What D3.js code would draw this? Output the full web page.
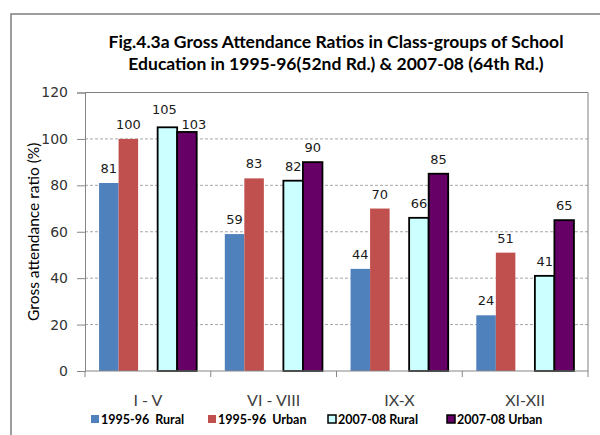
<!DOCTYPE html>
<html>
<head>
<meta charset="utf-8">
<script src="https://cdn.jsdelivr.net/npm/d3@7"></script>
<style>
  body { margin: 0; background: #fff; }
  svg { display: block; }
</style>
</head>
<body>
<svg width="600" height="435"></svg>
<script>
// values
var categories = ["I - V", "VI - VIII", "IX-X", "XI-XII"];
var rural9596 = [81, 59, 44, 24];
var urban9596 = [100, 83, 70, 51];
var rural0708 = [105, 82, 66, 41];
var urban0708 = [103, 90, 85, 65];
var seriesNames = ["1995-96  Rural", "1995-96  Urban", "2007-08 Rural", "2007-08 Urban"];
var yTicks = [0, 20, 40, 60, 80, 100, 120];

var svg = d3.select("svg"),
    width = +svg.attr("width"),
    height = +svg.attr("height"),
    margin = {top: 92.5, right: 12, bottom: 64, left: 85};

var series = [
  {key: "r95", name: seriesNames[0], values: rural9596, fill: "#4F81BD", stroke: "none"},
  {key: "u95", name: seriesNames[1], values: urban9596, fill: "#C0504D", stroke: "none"},
  {key: "r07", name: seriesNames[2], values: rural0708, fill: "#CCFFFF", stroke: "#000"},
  {key: "u07", name: seriesNames[3], values: urban0708, fill: "#660066", stroke: "#000"}
];

var x0 = d3.scaleBand().domain(categories).range([margin.left, width - margin.right]),
    // empty slot between the two survey rounds
    x1 = d3.scaleBand().domain(["r95", "u95", "gap", "r07", "u07"]).range([0, x0.bandwidth()]).paddingOuter(0.72),
    y = d3.scaleLinear().domain([0, 120]).range([height - margin.bottom, margin.top]);

// outer chart frame
svg.append("rect")
    .attr("x", 11).attr("y", 14)
    .attr("width", 620).attr("height", 450)
    .attr("fill", "none")
    .attr("stroke", "#7f7f7f")
    .attr("stroke-width", 1.5);

// title
var title = svg.append("text")
    .attr("text-anchor", "middle")
    .style("font-family", "Lato, sans-serif")
    .style("font-weight", "bold")
    .style("font-size", "17.5px")
    .attr("fill", "#000");
title.append("tspan").attr("x", 336).attr("y", 48)
    .text("Fig.4.3a Gross Attendance Ratios in Class-groups of School");
title.append("tspan").attr("x", 336).attr("y", 70)
    .text("Education in 1995-96(52nd Rd.) & 2007-08 (64th Rd.)");

// gridlines
svg.append("g")
  .selectAll("line")
  .data(yTicks.filter(function(d) { return d > 0 && d < 120; }))
  .enter().append("line")
    .attr("x1", margin.left).attr("x2", width - margin.right)
    .attr("y1", function(d) { return y(d); })
    .attr("y2", function(d) { return y(d); })
    .attr("stroke", "#a6a6a6")
    .attr("stroke-dasharray", "3,2");

// plot area border (top / right)
svg.append("path")
    .attr("d", "M" + margin.left + "," + y(120) + "H" + (width - margin.right) + "V" + y(0))
    .attr("fill", "none")
    .attr("stroke", "#808080");

// bars
var groups = svg.append("g")
  .selectAll("g")
  .data(series)
  .enter().append("g");

groups.selectAll("rect")
  .data(function(s) { return s.values.map(function(v, i) { return {s: s, cat: categories[i], v: v}; }); })
  .enter().append("rect")
    .attr("x", function(d) { return x0(d.cat) + x1(d.s.key); })
    .attr("y", function(d) { return y(d.v); })
    .attr("width", x1.bandwidth())
    .attr("height", function(d) { return y(0) - y(d.v); })
    .attr("fill", function(d) { return d.s.fill; })
    .attr("stroke", function(d) { return d.s.stroke; })
    .attr("stroke-width", 1.8);

// data labels; when the two 2007-08 bars are nearly equal the labels are pushed apart
function close(i) { return Math.abs(rural0708[i] - urban0708[i]) < 5; }
groups.selectAll("text")
  .data(function(s) { return s.values.map(function(v, i) { return {s: s, i: i, cat: categories[i], v: v}; }); })
  .enter().append("text")
    .attr("x", function(d) {
      var dx = (d.s.key == "u07" && close(d.i)) ? 7 : (d.s.key == "r07" && close(d.i)) ? -3 : 0;
      return x0(d.cat) + x1(d.s.key) + x1.bandwidth() / 2 + dx;
    })
    .attr("y", function(d) {
      var off = (d.s.key == "u07" && close(d.i)) ? 3 : (d.s.key == "r07" && close(d.i)) ? 13 : 10;
      return y(d.v) - off;
    })
    .attr("text-anchor", "middle")
    .style("font-family", "'DejaVu Sans', sans-serif")
    .style("font-size", "13px")
    .attr("fill", "#1a1a1a")
    .text(function(d) { return d.v; });

// y axis
var yAxis = svg.append("g")
    .attr("transform", "translate(" + margin.left + ",0)")
    .call(d3.axisLeft(y).tickValues(yTicks).tickSize(8).tickPadding(9));
yAxis.select(".domain").attr("stroke", "#868686");
yAxis.selectAll(".tick line").attr("stroke", "#868686");
yAxis.selectAll(".tick text")
    .style("font-family", "'DejaVu Sans', sans-serif")
    .style("font-size", "14px")
    .attr("fill", "#333");

// x axis
var xAxis = svg.append("g")
    .attr("transform", "translate(0," + y(0) + ")");
xAxis.append("line")
    .attr("x1", margin.left).attr("x2", width - margin.right)
    .attr("stroke", "#868686");
xAxis.selectAll(".tk")
  .data(categories.concat([null]))
  .enter().append("line")
    .attr("x1", function(d) { return d ? x0(d) : x0.range()[1]; })
    .attr("x2", function(d) { return d ? x0(d) : x0.range()[1]; })
    .attr("y1", 0).attr("y2", 6)
    .attr("stroke", "#868686");
xAxis.selectAll("text")
  .data(categories)
  .enter().append("text")
    .attr("x", function(d) { return x0(d) + x0.bandwidth() / 2; })
    .attr("y", 35)
    .attr("text-anchor", "middle")
    .style("font-family", "Lato, sans-serif")
    .style("font-size", "16px")
    .attr("fill", "#404040")
    .text(function(d) { return d; });

// y axis title
svg.append("text")
    .attr("transform", "translate(39," + ((y(0) + y(120)) / 2) + ") rotate(-90)")
    .attr("text-anchor", "middle")
    .style("font-family", "Lato, sans-serif")
    .style("font-size", "15.5px")
    .attr("fill", "#000")
    .text("Gross attendance ratio (%)");

// legend
var legendX = [91, 208, 328, 447];
var legend = svg.append("g")
  .selectAll("g")
  .data(series)
  .enter().append("g")
    .attr("transform", function(d, i) { return "translate(" + legendX[i] + ",415)"; });
legend.append("rect")
    .attr("width", 8).attr("height", 8)
    .attr("fill", function(d) { return d.fill; })
    .attr("stroke", function(d) { return d.stroke; })
    .attr("stroke-width", 1.5);
legend.append("text")
    .attr("x", 10).attr("y", 8.5)
    .style("font-family", "Lato, sans-serif")
    .style("font-weight", "bold")
    .style("font-size", "12.5px")
    .style("white-space", "pre")
    .attr("xml:space", "preserve")
    .attr("fill", "#000")
    .text(function(d) { return d.name; });
</script>
</body>
</html>
